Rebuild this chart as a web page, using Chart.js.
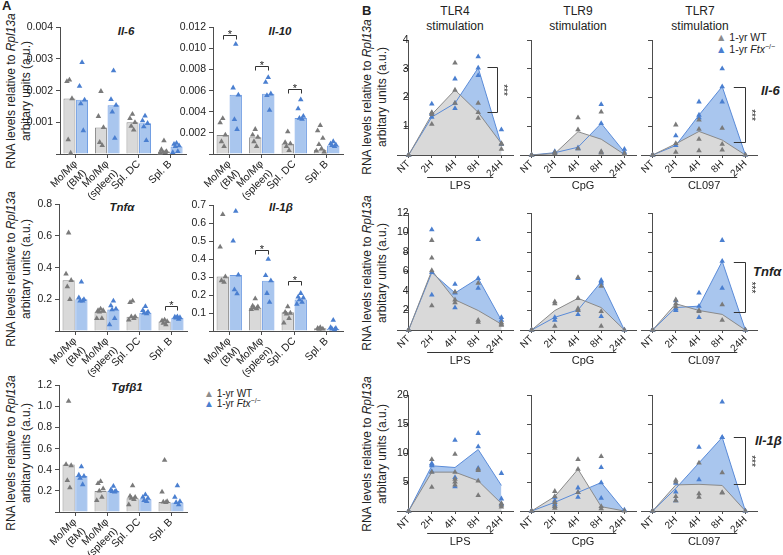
<!DOCTYPE html>
<html>
<head>
<meta charset="utf-8">
<title>Ftx cytokine expression</title>
<script src="https://cdn.jsdelivr.net/npm/chart.js@4.4.1/dist/chart.umd.min.js"></script>
<style>
  body { margin:0; width:783px; height:555px; position:relative; overflow:hidden; background:#fff;
         font-family:"Liberation Sans", Arial, sans-serif; color:#222; }
  canvas { position:absolute; }
  .lbl { position:absolute; white-space:nowrap; }
  .panel { font-weight:bold; font-size:13px; }
  .gene { font-weight:bold; font-style:italic; font-size:11.5px; transform:translateX(-50%); }
  .geneB { font-weight:bold; font-style:italic; font-size:13px; }
  .ytitle { position:absolute; width:230px; height:30px; margin:-15px 0 0 -115px; transform:rotate(-90deg);
            text-align:center; font-size:12px; line-height:15px; white-space:nowrap; }
  .stim { text-align:center; font-size:12px; line-height:15px; transform:translateX(-50%); }
  .leg { font-size:10px; line-height:10px; }
  .legB { font-size:10.5px; line-height:12px; }
  .sup { font-size:7px; position:relative; top:-4px; }
  .wt { color:#8c8c8c; } .ko { color:#4a7fd0; }
</style>
</head>
<body>
<div class="lbl panel" style="left:2px;top:-2px">A</div>
<div class="lbl panel" style="left:362px;top:3px">B</div>

<div class="ytitle" style="left:19px;top:91px">RNA levels relative to <i>Rpl13a</i><br>arbitary units (a.u.)</div>
<div class="ytitle" style="left:19px;top:269px">RNA levels relative to <i>Rpl13a</i><br>arbitary units (a.u.)</div>
<div class="ytitle" style="left:19px;top:453px">RNA levels relative to <i>Rpl13a</i><br>arbitary units (a.u.)</div>
<div class="ytitle" style="left:375px;top:97px">RNA levels relative to <i>Rpl13a</i><br>arbitary units (a.u.)</div>
<div class="ytitle" style="left:375px;top:273px">RNA levels relative to <i>Rpl13a</i><br>arbitary units (a.u.)</div>
<div class="ytitle" style="left:375px;top:454px">RNA levels relative to <i>Rpl13a</i><br>arbitary units (a.u.)</div>

<div class="lbl gene" style="left:126px;top:25px">Il-6</div>
<div class="lbl gene" style="left:280px;top:25px">Il-10</div>
<div class="lbl gene" style="left:122px;top:201px">Tnfα</div>
<div class="lbl gene" style="left:281px;top:201px">Il-1β</div>
<div class="lbl gene" style="left:127px;top:381px">Tgfβ1</div>

<div class="lbl leg" style="left:204px;top:389px"><span class="wt">▲</span> 1-yr WT<br><span class="ko">▲</span> 1-yr <i>Ftx</i><span class="sup">−/−</span></div>

<div class="lbl stim" style="left:455px;top:4px">TLR4<br>stimulation</div>
<div class="lbl stim" style="left:578px;top:4px">TLR9<br>stimulation</div>
<div class="lbl stim" style="left:700px;top:4px">TLR7<br>stimulation</div>

<div class="lbl legB" style="left:716px;top:31px"><span class="wt">▲</span> 1-yr WT<br><span class="ko">▲</span> 1-yr <i>Ftx</i><span class="sup">−/−</span></div>

<div class="lbl geneB" style="left:761px;top:83px">Il-6</div>
<div class="lbl geneB" style="left:753px;top:264px">Tnfα</div>
<div class="lbl geneB" style="left:755px;top:433px">Il-1β</div>

<script>
// ---------- panel A data (bars = medians, triangles = mice) ----------
const cellTypes = [['Mo/Mφ', '(BM)'], ['Mo/Mφ', '(spleen)'], 'Spl. DC', 'Spl. B'];

const il6Wt = [0.00175, 0.00084, 0.00100, 0.00008];
const il6Ko = [0.00171, 0.00154, 0.00097, 0.00024];
const il6WtPts = [[0.00234, 0.00229, 0.00175, 0.00045, 0.00003], [0.00198, 0.00119, 0.00084, 0.00037, 0.00027],
                  [0.00126, 0.00112, 0.00100, 0.00088, 0.00076], [0.00042, 0.00014, 0.00008, 0.00006, 0.00005, 0.00003]];
const il6KoPts = [[0.00289, 0.00214, 0.00171, 0.00159, 0.00074], [0.00263, 0.00172, 0.00154, 0.00133, 0.00050],
                  [0.00120, 0.00105, 0.00097, 0.00086, 0.00043], [0.00034, 0.00031, 0.00026, 0.00024, 0.00008, 0.00005]];

const il10Wt = [0.00181, 0.00159, 0.00097, 0.00040];
const il10Ko = [0.00560, 0.00570, 0.00340, 0.00081];
const il10WtPts = [[0.00337, 0.00296, 0.00181, 0.00118, 0.00072], [0.00234, 0.00181, 0.00159, 0.00118, 0.00072],
                   [0.00212, 0.00109, 0.00097, 0.00072, 0.00034], [0.00270, 0.00220, 0.00150, 0.00090, 0.00050, 0.00030, 0.00020]];
const il10KoPts = [[0.01040, 0.00627, 0.00560, 0.00327, 0.00234], [0.00726, 0.00680, 0.00570, 0.00555, 0.00415],
                   [0.00514, 0.00430, 0.00358, 0.00340, 0.00330], [0.00118, 0.00097, 0.00087, 0.00081, 0.00072]];
const il10Sig = [[0, 0.0113], [1, 0.0083], [2, 0.0062]];

const tnfWt = [0.32, 0.12, 0.09, 0.06];
const tnfKo = [0.20, 0.135, 0.115, 0.083];
const tnfWtPts = [[0.62, 0.36, 0.32, 0.28, 0.20], [0.14, 0.13, 0.13, 0.12, 0.08, 0.08],
                  [0.19, 0.18, 0.09, 0.09, 0.08, 0.07], [0.07, 0.065, 0.06, 0.05, 0.04]];
const tnfKoPts = [[0.31, 0.21, 0.20, 0.19, 0.19], [0.19, 0.16, 0.14, 0.135, 0.08, 0.04],
                  [0.155, 0.13, 0.12, 0.115, 0.11], [0.09, 0.088, 0.085, 0.083, 0.075]];
const tnfSig = [[3, 0.16]];

const il1bWt = [0.303, 0.13, 0.105, 0.015];
const il1bKo = [0.312, 0.28, 0.175, 0.012];
const il1bWtPts = [[0.649, 0.468, 0.303, 0.281, 0.272], [0.18, 0.14, 0.135, 0.13, 0.125, 0.12],
                   [0.135, 0.105, 0.10, 0.095, 0.07, 0.045], [0.02, 0.015, 0.012, 0.01]];
const il1bKoPts = [[0.667, 0.502, 0.312, 0.23, 0.208], [0.40, 0.31, 0.28, 0.21, 0.16],
                   [0.21, 0.19, 0.185, 0.175, 0.16, 0.15], [0.06, 0.02, 0.015, 0.012, 0.008]];
const il1bSig = [[1, 0.45], [2, 0.28]];

const tgfWt = [0.45, 0.20, 0.13, 0.095];
const tgfKo = [0.34, 0.198, 0.12, 0.09];
const tgfWtPts = [[1.05, 0.45, 0.44, 0.30, 0.23], [0.29, 0.27, 0.22, 0.20, 0.14, 0.11],
                  [0.25, 0.15, 0.14, 0.13, 0.12, 0.07], [0.49, 0.19, 0.10, 0.095, 0.09]];
const tgfKoPts = [[0.43, 0.35, 0.34, 0.32, 0.26], [0.245, 0.21, 0.20, 0.195, 0.19],
                  [0.165, 0.14, 0.13, 0.11, 0.10], [0.25, 0.14, 0.10, 0.09, 0.07]];

// ---------- panel B data (per stimulation: TLR4/LPS, TLR9/CpG, TLR7/CL097) ----------
const timepoints = ['NT', '2H', '4H', '8H', '24H'];
const stimulants = ['LPS', 'CpG', 'CL097'];

const il6WtLine = [[0, 1.41, 2.26, 1.48, 0.40], [0, 0.05, 0.81, 0.55, 0.02], [0, 0.39, 0.82, 0.52, 0]];
const il6KoLine = [[0, 1.32, 1.80, 3.03, 0.35], [0, 0.08, 0.27, 1.10, 0.10], [0, 0.33, 1.39, 2.38, 0]];
const il6WtDots = [
  [[0, 0], [1.48, 1.41, 1.07], [3.20, 2.26, 1.80], [1.80, 1.48, 1.28], [0.40, 0.38, 0.20]],
  [[0, 0], [0.10, 0.05], [1.30, 0.88, 0.22], [1.50, 0.12, 0.07], [0.05, 0.02]],
  [[0, 0], [1.05, 0.40, 0.10], [1.22, 0.90, 0.55, 0.15], [0.93, 0.38, 0.18], [0]]];
const il6KoDots = [
  [[0, 0], [1.78, 1.45, 1.32], [2.65, 1.80, 1.62], [3.42, 3.03, 2.77], [0.88, 0.38]],
  [[0, 0], [0.12, 0.08], [0.25, 0.22], [1.76, 1.10, 0.10], [0.20, 0.10]],
  [[0, 0], [0.67, 0.33], [1.85, 1.39, 1.30], [3.00, 2.38, 1.85], [0]]];
const il6Brackets = [[3.05, 1.5], null, [2.38, 0.45]];

const tnfWtLine = [[0, 6.1, 3.1, 2.0, 0.6], [0, 2.0, 3.25, 2.3, 0], [0, 2.7, 2.0, 1.6, 0]];
const tnfKoLine = [[0, 5.9, 3.8, 5.3, 1.0], [0, 1.3, 2.05, 4.95, 0], [0, 2.3, 2.45, 7.05, 0]];
const tnfWtDots = [
  [[0, 0], [9.2, 7.4, 6.1, 2.5], [3.9, 3.1, 2.8], [4.8, 1.0, 0.8], [0.75, 0.6, 0.5]],
  [[0, 0], [2.9, 2.7, 0.4], [5.4, 3.25, 2.2, 2.0], [4.5, 1.9, 0.4], [0]],
  [[0, 0], [3.1, 2.7, 2.4], [2.0, 1.9], [2.6, 1.0], [0]]];
const tnfKoDots = [
  [[0, 0], [10.3, 5.9, 3.6], [4.7, 3.8, 2.3], [9.3, 5.3, 4.3], [1.3, 1.0]],
  [[0, 0], [1.3, 1.0], [5.3, 2.05, 1.6], [5.1, 4.95, 4.8, 1.4], [0]],
  [[0, 0], [3.0, 2.2, 2.0], [3.8, 2.45, 1.3], [9.2, 7.05, 4.3], [0]]];
const tnfBrackets = [null, null, [7.0, 1.8]];

const il1bWtLine = [[0, 6.7, 6.7, 5.2, 1.3], [0, 2.5, 7.2, 0.75, 0], [0, 4.5, 4.6, 4.4, 0]];
const il1bKoLine = [[0, 7.8, 7.5, 10.6, 4.4], [0, 1.5, 3.2, 4.9, 0], [0, 3.9, 8.3, 12.7, 0]];
const il1bWtDots = [
  [[0, 0], [8.9, 6.7, 4.1], [9.8, 6.7, 5.5, 5.0, 4.5], [7.2, 7.0, 5.2, 2.7], [1.3, 1.0, 0.7]],
  [[0, 0], [3.4, 2.5, 1.5, 0.8, 0.5], [8.9, 7.2, 3.2], [9.4, 0.8, 0.4], [0]],
  [[0, 0], [5.3, 5.0, 2.5, 1.8], [8.3, 3.0, 2.4], [6.6, 3.2, 3.1], [0]]];
const il1bKoDots = [
  [[0, 0], [8.2, 8.0, 7.8, 6.8], [12.2, 5.8, 4.2], [13.4, 11.1, 7.4], [6.5, 2.1, 1.2]],
  [[0, 0], [2.4, 1.8, 1.2, 0.9], [4.0, 3.2, 2.4], [7.5, 4.9, 2.2], [0.2]],
  [[0, 0], [4.8, 3.3, 1.8], [11.0, 5.4], [18.8, 12.7, 12.7], [0]]];
const il1bBrackets = [null, null, [12.8, 4.6]];

// ---------- styling ----------
const axisColor = '#4d4d4d';
const textColor = '#222';
const wtDot = '#7a7a7a', koDot = '#4a7fd0';
const wtFill = '#d9d9d9', wtEdge = '#8a8a8a', koFill = '#a9c6ee', koEdge = '#6d9be2';
const wtLineColor = '#8a8a8a', koLineColor = '#5a8bd8';
const font = '"Liberation Sans", Arial, sans-serif';
Chart.defaults.font.family = font;
Chart.defaults.color = textColor;

function addCanvas(left, top, w, h) {
  const c = document.createElement('canvas');
  c.width = w; c.height = h;
  c.style.left = left + 'px'; c.style.top = top + 'px';
  c.style.width = w + 'px'; c.style.height = h + 'px';
  document.body.appendChild(c);
  return c;
}

// small spread so the triangles of one group don't sit on top of each other
const jitter = [0, -0.08, 0.08, -0.04, 0.04, -0.12, 0.12, 0.02];
function dotsA(groups, shift) {
  const out = [];
  groups.forEach((vals, i) => vals.forEach((v, k) => out.push({x: i + shift + jitter[k % jitter.length], y: v})));
  return out;
}
function dotsB(groups) {
  const out = [];
  groups.forEach((vals, i) => vals.forEach(v => out.push({x: i, y: v})));
  return out;
}

// significance brackets for panel A (horizontal, star on top)
const starsA = {
  id: 'starsA',
  afterDraw(chart, args, opts) {
    const ctx = chart.ctx, x = chart.scales.x, y = chart.scales.y;
    ctx.save();
    ctx.strokeStyle = '#333'; ctx.lineWidth = 1; ctx.fillStyle = textColor;
    ctx.font = '11px ' + font; ctx.textAlign = 'center'; ctx.textBaseline = 'alphabetic';
    (opts.list || []).forEach(([cat, val]) => {
      const xl = Math.round(x.getPixelForValue(cat - 0.2)) + 0.5;
      const xr = Math.round(x.getPixelForValue(cat + 0.2)) + 0.5;
      const yy = Math.round(y.getPixelForValue(val)) + 0.5;
      ctx.beginPath();
      ctx.moveTo(xl, yy + 4); ctx.lineTo(xl, yy); ctx.lineTo(xr, yy); ctx.lineTo(xr, yy + 4);
      ctx.stroke();
      ctx.fillText('*', (xl + xr) / 2, yy + 2);
    });
    ctx.restore();
  }
};

// stimulus underline + vertical significance bracket for panel B
const decorB = {
  id: 'decorB',
  afterDraw(chart, args, opts) {
    const ctx = chart.ctx, x = chart.scales.x, y = chart.scales.y, a = chart.chartArea;
    ctx.save();
    ctx.strokeStyle = '#333'; ctx.lineWidth = 1; ctx.fillStyle = textColor;
    const yy = Math.round(a.bottom + 22) + 0.5;
    ctx.beginPath();
    ctx.moveTo(x.getPixelForValue(0.8), yy); ctx.lineTo(x.getPixelForValue(3.65), yy);
    ctx.stroke();
    ctx.font = '11px ' + font; ctx.textAlign = 'center'; ctx.textBaseline = 'top';
    ctx.fillText(opts.stim, x.getPixelForValue(2.22), yy + 3);
    if (opts.bracket) {
      const [hi, lo] = opts.bracket;
      const xa = x.getPixelForValue(opts.arm), xb = Math.round(x.getPixelForValue(opts.bar)) + 0.5;
      const y1 = Math.round(y.getPixelForValue(hi)) + 0.5, y2 = Math.round(y.getPixelForValue(lo)) + 0.5;
      ctx.beginPath();
      ctx.moveTo(xa, y1); ctx.lineTo(xb, y1); ctx.lineTo(xb, y2); ctx.lineTo(xa, y2);
      ctx.stroke();
      ctx.translate(xb + 7, (y1 + y2) / 2);
      ctx.rotate(Math.PI / 2);
      ctx.font = '10px ' + font; ctx.textBaseline = 'middle';
      ctx.fillText('***', 0, 2);
    }
    ctx.restore();
  }
};

// ---------- panel A charts ----------
const aPanels = [
  {area: [60, 26, 186, 154], max: 0.004, step: 0.001, dec: 3, wt: il6Wt, ko: il6Ko, wtPts: il6WtPts, koPts: il6KoPts, sig: []},
  {area: [213, 26, 343, 154], max: 0.012, step: 0.002, dec: 3, wt: il10Wt, ko: il10Ko, wtPts: il10WtPts, koPts: il10KoPts, sig: il10Sig},
  {area: [59, 203, 187, 331], max: 0.8, step: 0.2, dec: 1, wt: tnfWt, ko: tnfKo, wtPts: tnfWtPts, koPts: tnfKoPts, sig: tnfSig},
  {area: [213, 204, 343, 331], max: 0.7, step: 0.1, dec: 1, wt: il1bWt, ko: il1bKo, wtPts: il1bWtPts, koPts: il1bKoPts, sig: il1bSig},
  {area: [59, 384, 187, 512], max: 1.2, step: 0.2, dec: 1, wt: tgfWt, ko: tgfKo, wtPts: tgfWtPts, koPts: tgfKoPts, sig: []}
];

aPanels.forEach(p => {
  const [l, t, r, b] = p.area;
  const yW = 40, xH = 50, padT = 8, padR = 6;
  const canvas = addCanvas(l - yW, t - padT, r - l + yW + padR, b - t + padT + xH);
  const tri = (data, color) => ({
    type: 'scatter', data, order: 0, clip: false,
    pointStyle: 'triangle', pointRadius: 3.2, backgroundColor: color, borderColor: color, borderWidth: 0
  });
  // bars sit at category -0.2 (WT) and +0.2 (Ftx-/-) on a linear index axis
  const bar = (vals, shift, fill, edge) => ({
    type: 'bar', data: vals.map((v, i) => ({x: i + shift, y: v})), order: 1,
    backgroundColor: fill, borderColor: edge, borderWidth: 1,
    grouped: false, categoryPercentage: 1, barPercentage: 0.95
  });
  new Chart(canvas, {
    type: 'bar',
    data: {
      datasets: [
        tri(dotsA(p.wtPts, -0.2), wtDot),
        tri(dotsA(p.koPts, 0.2), koDot),
        bar(p.wt, -0.2, wtFill, wtEdge),
        bar(p.ko, 0.2, koFill, koEdge)
      ]
    },
    options: {
      responsive: false, animation: false,
      layout: {padding: {top: padT, right: padR, left: 0, bottom: 0}},
      plugins: {legend: {display: false}, tooltip: {enabled: false}, starsA: {list: p.sig}},
      scales: {
        x: {
          type: 'linear', min: -0.5, max: 3.5, offset: false,
          afterBuildTicks: s => { s.ticks = cellTypes.map((_, i) => ({value: i})); },
          grid: {drawOnChartArea: false, offset: false, tickLength: 4, color: axisColor},
          border: {color: axisColor},
          ticks: {callback: v => cellTypes[v], font: {size: 10.5}, color: textColor,
                  minRotation: 45, maxRotation: 45, autoSkip: false, padding: 0},
          afterFit: s => { s.height = xH; }
        },
        y: {
          type: 'linear', min: 0, max: p.max,
          ticks: {stepSize: p.step, font: {size: 10.5}, color: textColor, padding: 3,
                  callback: v => v === 0 ? '' : v.toFixed(p.dec)},
          grid: {drawOnChartArea: false, tickLength: 4, color: axisColor},
          border: {color: axisColor},
          afterFit: s => { s.width = yW; }
        }
      }
    },
    plugins: [starsA]
  });
});

// ---------- panel B charts ----------
const colLeft = [397, 520, 641];
const bracketX = [[3.4, 3.8], [3.5, 4.0], [3.5, 4.0]];
const rowsB = [
  {top: 40, bottom: 155, max: 4, step: 1, wt: il6WtLine, ko: il6KoLine, wtDots: il6WtDots, koDots: il6KoDots, br: il6Brackets},
  {top: 213, bottom: 330, max: 12, step: 2, wt: tnfWtLine, ko: tnfKoLine, wtDots: tnfWtDots, koDots: tnfKoDots, br: tnfBrackets},
  {top: 395, bottom: 511, max: 20, step: 5, wt: il1bWtLine, ko: il1bKoLine, wtDots: il1bWtDots, koDots: il1bKoDots, br: il1bBrackets}
];

rowsB.forEach(row => stimulants.forEach((stim, c) => {
  const l = colLeft[c], r = l + 116, t = row.top, b = row.bottom;
  const padL = 30, padT = 10, padR = 8, xH = 44;
  const canvas = addCanvas(l - padL, t - padT, r - l + padL + padR, b - t + padT + xH);
  const area = (vals, fill, stroke) => ({
    type: 'line', data: vals.map((v, i) => ({x: i, y: v})), fill: 'origin', order: 1,
    backgroundColor: fill, borderColor: stroke, borderWidth: 1, pointRadius: 0, tension: 0
  });
  const tri = (data, color) => ({
    type: 'scatter', data, order: 0, clip: false,
    pointStyle: 'triangle', pointRadius: 3.2, backgroundColor: color, borderColor: color, borderWidth: 0
  });
  new Chart(canvas, {
    type: 'line',
    data: {
      datasets: [
        area(row.wt[c], wtFill, wtLineColor),
        area(row.ko[c], koFill, koLineColor),
        tri(dotsB(row.wtDots[c]), wtDot),
        tri(dotsB(row.koDots[c]), koDot)
      ]
    },
    options: {
      responsive: false, animation: false,
      layout: {padding: {top: padT, right: padR, left: padL, bottom: 0}},
      plugins: {
        legend: {display: false}, tooltip: {enabled: false},
        filler: {drawTime: 'beforeDatasetsDraw'},
        decorB: {stim, bracket: row.br[c], arm: bracketX[c][0], bar: bracketX[c][1]}
      },
      scales: {
        x: {
          type: 'linear', min: -0.5, max: 4.5,
          afterBuildTicks: s => { s.ticks = timepoints.map((_, i) => ({value: i})); },
          ticks: {callback: v => timepoints[v], font: {size: 10}, color: textColor,
                  minRotation: 45, maxRotation: 45, autoSkip: false, padding: 0},
          grid: {drawOnChartArea: false, tickLength: 3, color: axisColor},
          border: {color: axisColor},
          afterFit: s => { s.height = xH; }
        },
        y: {
          position: {x: 0}, min: 0, max: row.max,
          ticks: {stepSize: row.step, font: {size: 10.5}, color: textColor, padding: 2,
                  callback: v => (c === 0 && v !== 0) ? String(v) : ''},
          grid: {drawOnChartArea: false, tickLength: 4, color: axisColor},
          border: {color: axisColor}
        }
      }
    },
    plugins: [decorB]
  });
}));
</script>
</body>
</html>
